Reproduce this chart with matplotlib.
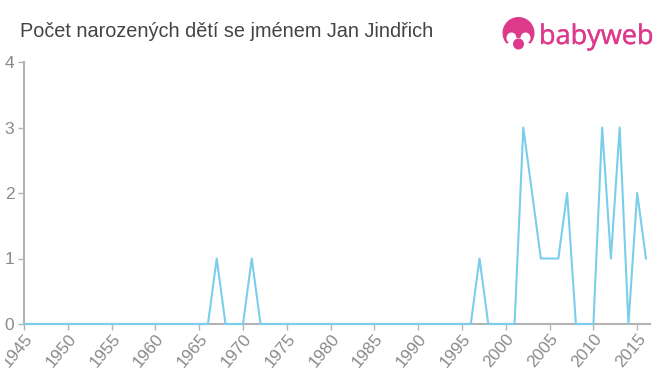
import matplotlib
matplotlib.use('Agg')
import matplotlib.pyplot as plt
import matplotlib.patheffects as pe
from matplotlib.patches import Circle, Ellipse, Rectangle

years = list(range(1945, 2017))
counts = [0] * 72
peaks_years = [1967, 1971, 1997, 2002, 2003, 2004, 2005, 2006, 2007, 2011, 2012, 2013, 2015, 2016]
peaks_vals = [1, 1, 1, 3, 2, 1, 1, 1, 2, 3, 1, 3, 2, 1]
for y, v in zip(peaks_years, peaks_vals):
    counts[y - 1945] = v

xtick_years = list(range(1945, 2020, 5))
ytick_vals = [0, 1, 2, 3, 4]
title = 'Počet narozených dětí se jménem Jan Jindřich'

W, H = 660, 375
LINE = '#7bcdec'
AXIS = '#b3b3b3'
TEXT = '#8a8a8a'
PINK = '#dd3a8c'

plt.rcParams['font.family'] = ['Liberation Sans', 'DejaVu Sans']

fig = plt.figure(figsize=(W / 100, H / 100), dpi=100)
ax = fig.add_axes([24 / W, 1 - 324 / H, (650 - 24) / W, (324 - 62) / H])
ax.plot(years, counts, color=LINE, lw=1.5, clip_on=False, zorder=3)
ax.set_xlim(1945, 1945 + (650 - 24) / 8.76)
ax.set_ylim(0, 4)
ax.set_xticks(xtick_years)
ax.set_yticks(ytick_vals)
for s in ['top', 'right']:
    ax.spines[s].set_visible(False)
for s in ['left', 'bottom']:
    ax.spines[s].set_color(AXIS)
    ax.spines[s].set_linewidth(1.5)
ax.tick_params(axis='both', color=AXIS, width=1, length=4)
ax.tick_params(axis='y', labelsize=12.5, labelcolor=TEXT, pad=3)
ax.tick_params(axis='x', labelsize=12.3, labelcolor=TEXT, pad=1)
for lab in ax.get_xticklabels():
    lab.set_rotation(50)
    lab.set_ha('right')
    lab.set_va('top')
    lab.set_rotation_mode('anchor')

fig.text(20 / W, 1 - 37 / H, title, fontsize=14.3, color='#444444')

# logo, in pixel coordinates
logo = fig.add_axes([0, 0, 1, 1])
logo.set_xlim(0, W)
logo.set_ylim(H, 0)
logo.axis('off')
# first year label is cut off at the left in the original
logo.add_patch(Rectangle((0, 328), 5, 47, color='white', lw=0))
logo.add_patch(Circle((518.5, 33), 16, color=PINK, lw=0))
logo.add_patch(Ellipse((518.5, 49), 34, 15, color='white', lw=0))
logo.add_patch(Ellipse((511.5, 38), 10, 11, color='white', lw=0))
logo.add_patch(Ellipse((525.5, 38), 10, 11, color='white', lw=0))
logo.add_patch(Ellipse((518.5, 41), 12, 6, color='white', lw=0))
logo.add_patch(Circle((518.5, 44), 5.5, color=PINK, lw=0))
logo.text(539, 44, 'babyweb', fontsize=19.5, color=PINK, family='Open Sans', va='baseline',
          path_effects=[pe.withStroke(linewidth=0.3, foreground=PINK)])

fig.savefig('out.png', dpi=100)
